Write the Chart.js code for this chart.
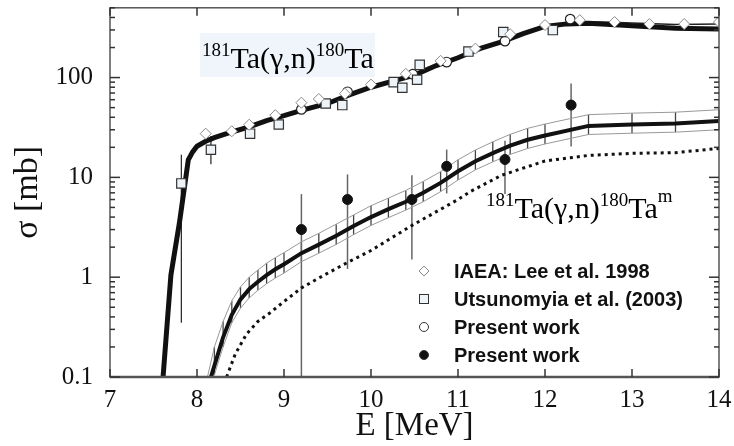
<!DOCTYPE html>
<html>
<head>
<meta charset="utf-8">
<script src="https://cdn.jsdelivr.net/npm/chart.js@4.4.0/dist/chart.umd.min.js"></script>
<style>
  html, body { margin: 0; padding: 0; background: #fff; }
</style>
</head>
<body>
<canvas id="chart" width="734" height="446"></canvas>
<script>
// --- data ---

// 181Ta(g,n)180Ta total, thick curve
const totalE = [7.61, 7.70, 7.80, 7.90, 7.95, 8.0, 8.1, 8.2, 8.4, 8.6, 8.8, 9.0, 9.2, 9.5, 9.75, 10.0, 10.25, 10.5, 10.75, 11.0, 11.25, 11.5, 11.75, 12.0, 12.25, 12.5, 12.75, 13.0, 13.5, 14.0];
const totalSigma = [0.1, 1.05, 3.6, 15, 18, 20.5, 23, 25, 28.5, 32, 37, 41.5, 47, 55, 67, 80, 92, 106, 132, 158, 195, 228, 275, 325, 345, 350, 340, 330, 312, 307];

// thin line running above the total curve at high energy
const thinE = [12.25, 12.5, 12.75, 13.0, 13.5, 14.0];
const thinSigma = [348, 360, 358, 352, 340, 345];

// 181Ta(g,n)180Ta^m, thick curve with band
const mE = [8.16, 8.2, 8.3, 8.4, 8.5, 8.6, 8.7, 8.8, 8.9, 9.0, 9.2, 9.4, 9.6, 9.8, 10.0, 10.2, 10.4, 10.6, 10.8, 11.0, 11.2, 11.4, 11.6, 11.8, 12.0, 12.5, 13.0, 13.5, 14.0];
const mSigma = [0.1, 0.13, 0.25, 0.42, 0.6, 0.76, 0.9, 1.05, 1.2, 1.35, 1.74, 2.12, 2.6, 3.25, 4.0, 4.8, 5.7, 7.0, 8.8, 11.5, 14.5, 17.5, 20.8, 23.8, 26.3, 32.8, 33.8, 34.6, 36.8];

// band edges (same energies as the hatch marks)
const bandE = [8.2, 8.3, 8.4, 8.5, 8.6, 8.7, 8.8, 8.9, 9.0, 9.2, 9.4, 9.6, 9.8, 10.0, 10.2, 10.4, 10.6, 10.8, 11.0, 11.2, 11.4, 11.6, 11.8, 12.0, 12.5, 13.0, 13.5, 14.0];
const bandHigh = [0.2, 0.36, 0.58, 0.8, 1.0, 1.18, 1.38, 1.57, 1.76, 2.26, 2.75, 3.4, 4.2, 5.2, 6.2, 7.4, 9.1, 11.4, 15, 18.8, 22.7, 27, 31, 34.2, 42.5, 44, 45, 47.6];
const bandLow = [0.105, 0.2, 0.35, 0.49, 0.62, 0.74, 0.86, 0.98, 1.1, 1.43, 1.74, 2.13, 2.67, 3.3, 3.95, 4.7, 5.7, 7.2, 9.4, 11.9, 14.3, 17, 19.5, 21.6, 26.9, 27.7, 28.4, 30];
const bandHighStart = [8.12, 0.1];
const bandLowStart = [8.18, 0.1];

// dotted curve
const dotE = [8.34, 8.44, 8.57, 8.7, 8.84, 9.0, 9.2, 9.4, 9.72, 10.0, 10.47, 11.0, 11.14, 11.5, 12.0, 12.5, 13.0, 13.5, 14.0];
const dotSigma = [0.1, 0.17, 0.27, 0.36, 0.44, 0.57, 0.78, 0.98, 1.39, 1.85, 3.3, 6.0, 7.2, 10.5, 14.6, 16.6, 17.4, 17.7, 19.5];

// IAEA: Lee et al. 1998
const iaeaE = [8.1, 8.4, 8.6, 8.9, 9.2, 9.4, 9.7, 10.0, 10.4, 10.8, 11.2, 11.6, 12.0, 12.4, 12.8, 13.2, 13.6, 14.0];
const iaeaSigma = [27.4, 29, 33.7, 42, 56, 61, 69, 85, 109, 147, 195, 272, 336, 376, 360, 344, 344, 360];

// Utsunomyia et al. (2003)
const utsE = [7.82, 8.16, 8.61, 8.94, 9.48, 9.67, 10.26, 10.36, 10.53, 10.56, 11.12, 11.52, 12.09];
const utsSigma = [8.7, 18.9, 27.4, 33.9, 55, 53, 90, 79, 95, 134, 182, 286, 299];
const utsLow = [0.35, 13.5, null, null, null, null, null, null, null, null, null, null, null];
const utsHigh = [16.9, 26, null, null, null, null, null, null, null, null, null, null, null];

// Present work, total (open circles)
const presE = [9.2, 9.73, 10.48, 10.87, 11.54, 12.29];
const presSigma = [48, 72, 108, 143, 232, 385];

// Present work, isomer (filled circles)
const presmE = [9.2, 9.73, 10.47, 10.87, 11.54, 12.3];
const presmSigma = [3.0, 6.0, 6.0, 12.9, 15.1, 53];
const presmLow = [0.01, 1.21, 1.5, 6.9, 6.8, 20.4];
const presmHigh = [6.8, 10.7, 10.5, 19, 23.3, 87];

const xTicks = [7, 8, 9, 10, 11, 12, 13, 14];
const yTicks = [0.1, 1, 10, 100];

// --- helpers ---
const SERIF = 'Liberation Serif, Times New Roman, serif';
const SANS = 'Liberation Sans, Arial, sans-serif';

const pts = (xs, ys) => xs.map((x, i) => ({ x: x, y: ys[i] }));

function line(ctx, x1, y1, x2, y2) {
  ctx.beginPath();
  ctx.moveTo(x1, y1);
  ctx.lineTo(x2, y2);
  ctx.stroke();
}

function clampY(a, v) {
  return Math.max(a.top, Math.min(a.bottom, v));
}

// text with superscript pieces
function drawReaction(ctx, x, base, parts) {
  let cx = x;
  for (const p of parts) {
    if (p.sup) {
      ctx.font = '19px ' + SERIF;
      ctx.fillText(p.t, cx, base - (p.up || 12));
    } else {
      ctx.font = '30px ' + SERIF;
      ctx.fillText(p.t, cx, base);
    }
    cx += ctx.measureText(p.t).width;
  }
}

// keep the plot box where the figure has it
function noPad(s) {
  s.paddingTop = 0;
  s.paddingBottom = 0;
  s.paddingLeft = 0;
  s.paddingRight = 0;
}

const errorBars = {
  id: 'errorBars',
  beforeDatasetsDraw(chart) {
    const { ctx, chartArea: a, scales: { x, y } } = chart;
    ctx.save();

    // hatch marks across the band
    ctx.strokeStyle = '#444';
    ctx.lineWidth = 1.3;
    bandE.forEach((e, i) => {
      const px = x.getPixelForValue(e);
      line(ctx, px, clampY(a, y.getPixelForValue(bandLow[i])), px, clampY(a, y.getPixelForValue(bandHigh[i])));
    });

    // Utsunomyia error bars
    ctx.strokeStyle = '#222';
    ctx.lineWidth = 1.2;
    utsE.forEach((e, i) => {
      if (utsLow[i] == null) return;
      const px = x.getPixelForValue(e);
      line(ctx, px, clampY(a, y.getPixelForValue(utsLow[i])), px, clampY(a, y.getPixelForValue(utsHigh[i])));
    });

    // present work isomer error bars
    ctx.strokeStyle = '#666';
    ctx.lineWidth = 1.5;
    presmE.forEach((e, i) => {
      const px = x.getPixelForValue(e);
      line(ctx, px, clampY(a, y.getPixelForValue(presmLow[i])), px, clampY(a, y.getPixelForValue(presmHigh[i])));
    });

    // reaction labels
    ctx.fillStyle = '#eff5fa';
    ctx.fillRect(200, 33, 175, 44);
    ctx.fillStyle = '#000';
    ctx.textBaseline = 'alphabetic';
    ctx.textAlign = 'left';
    drawReaction(ctx, 202, 68, [
      { t: '181', sup: true }, { t: 'Ta(γ,n)' }, { t: '180', sup: true }, { t: 'Ta' }
    ]);
    drawReaction(ctx, 486, 218, [
      { t: '181', sup: true }, { t: 'Ta(γ,n)' }, { t: '180', sup: true }, { t: 'Ta' }, { t: 'm', sup: true, up: 16 }
    ]);
    ctx.restore();
  }
};

const frame = {
  id: 'frame',
  afterDraw(chart) {
    const { ctx, chartArea: a, scales: { x, y } } = chart;
    ctx.save();
    ctx.strokeStyle = '#555';
    ctx.lineWidth = 1.5;
    ctx.strokeRect(a.left, a.top, a.right - a.left, a.bottom - a.top);
    ctx.lineWidth = 2.5;
    line(ctx, a.left, a.bottom, a.right, a.bottom);

    ctx.strokeStyle = '#333';
    ctx.lineWidth = 1.5;
    xTicks.forEach(v => {
      const px = x.getPixelForValue(v);
      line(ctx, px, a.bottom, px, a.bottom - 8);
      line(ctx, px, a.top, px, a.top + 8);
    });
    yTicks.forEach(d => {
      for (let m = 1; m <= 9; m++) {
        const v = d * m;
        if (v > y.max) break;
        const py = y.getPixelForValue(v);
        const len = m === 1 ? 10 : 5;
        line(ctx, a.left, py, a.left + len, py);
        line(ctx, a.right, py, a.right - len, py);
      }
    });

    // legend
    const rows = [
      { ds: 0, shape: 'diamond' },
      { ds: 1, shape: 'square' },
      { ds: 2, shape: 'circle' },
      { ds: 3, shape: 'dot' }
    ];
    const mx = 424, tx = 454;
    ctx.font = 'bold 20px ' + SANS;
    ctx.textBaseline = 'alphabetic';
    ctx.textAlign = 'left';
    rows.forEach((r, i) => {
      const base = 278 + i * 28;
      const cy = base - 7;
      ctx.lineWidth = 1;
      if (r.shape === 'diamond') {
        ctx.strokeStyle = '#888';
        ctx.fillStyle = '#fff';
        ctx.beginPath();
        ctx.moveTo(mx, cy - 5); ctx.lineTo(mx + 5, cy); ctx.lineTo(mx, cy + 5); ctx.lineTo(mx - 5, cy);
        ctx.closePath(); ctx.fill(); ctx.stroke();
      } else if (r.shape === 'square') {
        ctx.strokeStyle = '#333';
        ctx.fillStyle = '#eef3f8';
        ctx.fillRect(mx - 4.5, cy - 4.5, 9, 9);
        ctx.strokeRect(mx - 4.5, cy - 4.5, 9, 9);
      } else {
        ctx.strokeStyle = '#333';
        ctx.fillStyle = r.shape === 'dot' ? '#111' : '#fff';
        ctx.beginPath();
        ctx.arc(mx, cy, 4.5, 0, Math.PI * 2);
        ctx.fill(); ctx.stroke();
      }
      ctx.fillStyle = '#111';
      ctx.fillText(chart.data.datasets[r.ds].label, tx, base);
    });
    ctx.restore();
  }
};

new Chart(document.getElementById('chart'), {
  type: 'scatter',
  data: {
    datasets: [
      {
        label: 'IAEA: Lee et al. 1998',
        data: pts(iaeaE, iaeaSigma),
        pointStyle: 'rectRot', pointRadius: 5.5,
        borderColor: '#888', backgroundColor: '#fff', borderWidth: 1, order: 0
      },
      {
        label: 'Utsunomyia et al. (2003)',
        data: pts(utsE, utsSigma),
        pointStyle: 'rect', pointRadius: 6.6,
        borderColor: '#333', backgroundColor: '#eef3f8', borderWidth: 1.2, order: 0
      },
      {
        label: 'Present work',
        data: pts(presE, presSigma),
        pointStyle: 'circle', pointRadius: 4.8,
        borderColor: '#222', backgroundColor: '#fff', borderWidth: 1.2, order: 0
      },
      {
        label: 'Present work',
        data: pts(presmE, presmSigma),
        pointStyle: 'circle', pointRadius: 5,
        borderColor: '#111', backgroundColor: '#111', borderWidth: 1, order: 0
      },
      {
        label: 'total',
        data: pts(totalE, totalSigma),
        showLine: true, pointRadius: 0, borderColor: '#111', borderWidth: 5, order: 2
      },
      {
        label: 'total upper',
        data: pts(thinE, thinSigma),
        showLine: true, pointRadius: 0, borderColor: '#222', borderWidth: 1.5, order: 3
      },
      {
        label: 'isomer',
        data: pts(mE, mSigma),
        showLine: true, pointRadius: 0, borderColor: '#111', borderWidth: 4, order: 2
      },
      {
        label: 'band high',
        data: [{ x: bandHighStart[0], y: bandHighStart[1] }].concat(pts(bandE, bandHigh)),
        showLine: true, pointRadius: 0, borderColor: '#999', borderWidth: 1, order: 4
      },
      {
        label: 'band low',
        data: [{ x: bandLowStart[0], y: bandLowStart[1] }].concat(pts(bandE, bandLow)),
        showLine: true, pointRadius: 0, borderColor: '#999', borderWidth: 1, order: 4
      },
      {
        label: 'dotted',
        data: pts(dotE, dotSigma),
        showLine: true, pointRadius: 0, borderColor: '#111', borderWidth: 3, borderDash: [3, 4], order: 3
      }
    ]
  },
  options: {
    responsive: false,
    animation: false,
    devicePixelRatio: 1,
    layout: { padding: { top: 7, right: 15, left: 0, bottom: 0 } },
    plugins: { legend: { display: false }, tooltip: { enabled: false } },
    scales: {
      x: {
        type: 'linear', min: 7, max: 14,
        afterBuildTicks: s => { s.ticks = xTicks.map(v => ({ value: v })); },
        afterFit: s => { s.height = 69; noPad(s); },
        grid: { display: false, drawTicks: false }, border: { display: false },
        ticks: { font: { family: SERIF, size: 25 }, color: '#111', padding: 8, maxRotation: 0 },
        title: { display: true, text: 'E [MeV]', font: { family: SERIF, size: 33 }, color: '#111', padding: 0 }
      },
      y: {
        type: 'logarithmic', min: 0.1, max: 500,
        afterBuildTicks: s => { s.ticks = yTicks.map(v => ({ value: v })); },
        afterFit: s => { s.width = 110; noPad(s); },
        grid: { display: false, drawTicks: false }, border: { display: false },
        ticks: { font: { family: SERIF, size: 25 }, color: '#111', padding: 17, callback: v => String(v) },
        title: { display: true, text: 'σ [mb]', font: { family: SERIF, size: 34 }, color: '#111', padding: { top: 8, bottom: 0 } }
      }
    }
  },
  plugins: [errorBars, frame]
});
</script>
</body>
</html>
